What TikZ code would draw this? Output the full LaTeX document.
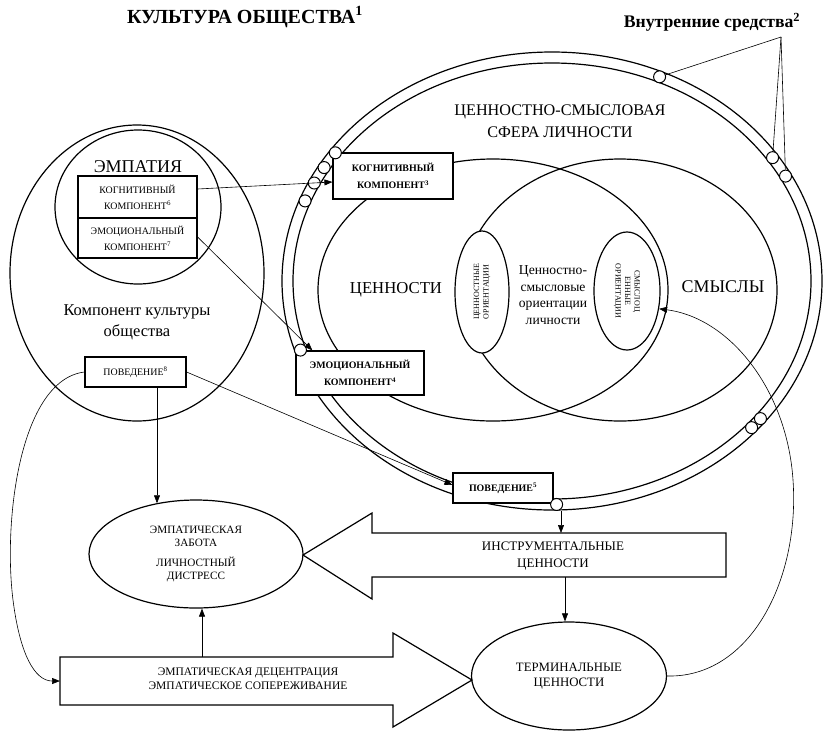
\documentclass[tikz,border=0pt]{standalone}
\usepackage{fontspec}
\setmainfont{Liberation Serif}
\usetikzlibrary{shapes.geometric,arrows.meta,calc}
\begin{document}
\begin{tikzpicture}[x=1pt,y=-1pt,
  outl/.style={line width=1.2pt},
  conn/.style={line width=0.6pt},
  arr/.style={conn,-{Triangle[length=8pt,width=6pt]}},
  ell/.style={ellipse,draw,outl,inner sep=0pt},
  box/.style={draw,outl,fill=white,inner sep=0pt,align=center},
  dot/.style={circle,draw,line width=1pt,fill=white,minimum size=12pt,inner sep=0pt},
  smalltxt/.style={font=\fontsize{9.9}{16}\selectfont},
  smallbold/.style={font=\fontsize{9.9}{17}\selectfont\bfseries},
]
\useasboundingbox (0,0) rectangle (837,732);

% titles
\node[font=\fontsize{20}{22}\selectfont\bfseries] (title) at (245,17) {КУЛЬТУРА ОБЩЕСТВА\textsuperscript{1}};
\node[font=\fontsize{17.7}{20}\selectfont\bfseries] (vnut) at (712,22) {Внутренние средства\textsuperscript{2}};

% big double ring
\node[ell, minimum width=540pt, minimum height=458pt] (ringO) at (552,281) {};
\node[ell, minimum width=518pt, minimum height=436pt] (ringI) at (552,281) {};
\node[font=\fontsize{16.2}{22}\selectfont, align=center] (sfera) at (560,121) {ЦЕННОСТНО-СМЫСЛОВАЯ\\СФЕРА ЛИЧНОСТИ};

% values / meanings ellipses
\node[ell, minimum width=350pt, minimum height=262pt] (cen) at (493,290) {};
\node[ell, minimum width=314pt, minimum height=262pt] (sm) at (620,290) {};
\node[font=\fontsize{16.7}{18}\selectfont] (cenlbl) at (396,290) {ЦЕННОСТИ};
\node[font=\fontsize{17.9}{19}\selectfont] (smlbl) at (723,287) {СМЫСЛЫ};

\node[ell, fill=white, minimum width=54pt, minimum height=122pt] (cor) at (482,292) {};
\node[font=\fontsize{8}{9.5}\selectfont, rotate=90, align=center] (corlbl) at (cor) {ЦЕННОСТНЫЕ\\ОРИЕНТАЦИИ};
\node[ell, fill=white, minimum width=66pt, minimum height=118pt] (sor) at (627,291) {};
\node[font=\fontsize{8}{9.5}\selectfont, rotate=-90, align=center] (sorlbl) at (sor) {СМЫСЛОЦ\\ЕННЫЕ\\ОРИЕНТАЦИИ};
\node[font=\fontsize{13.6}{16.7}\selectfont, align=center] (cso) at (553,295) {Ценностно-\\смысловые\\ориентации\\личности};

% left: culture component
\node[ell, minimum width=254pt, minimum height=296pt] (kko) at (137,273) {};
\node[ell, minimum width=166pt, minimum height=154pt] (emp) at (138,207) {};
\node[font=\fontsize{18}{20}\selectfont] (emplbl) at (138,167) {ЭМПАТИЯ};
\node[box, smalltxt, minimum width=119pt, minimum height=42pt] (kog6) at (137.5,197) {КОГНИТИВНЫЙ\\КОМПОНЕНТ\textsuperscript{6}};
\node[box, smalltxt, minimum width=119pt, minimum height=40pt] (emo7) at (137.5,238) {ЭМОЦИОНАЛЬНЫЙ\\КОМПОНЕНТ\textsuperscript{7}};
\node[font=\fontsize{16.5}{21}\selectfont, align=center] (kklbl) at (137,322) {Компонент культуры\\общества};
\node[box, smalltxt, minimum width=101pt, minimum height=30pt] (pov8) at (135.5,372) {ПОВЕДЕНИЕ\textsuperscript{8}};

% bottom ellipses
\node[ell, minimum width=214pt, minimum height=108pt, font=\fontsize{11.2}{13.5}\selectfont, align=center] (ezab) at (196,554) {ЭМПАТИЧЕСКАЯ\\ЗАБОТА\\[6pt]ЛИЧНОСТНЫЙ\\ДИСТРЕСС};
\node[ell, minimum width=195pt, minimum height=108pt, font=\fontsize{12.8}{15}\selectfont, align=center] (term) at (569,676) {ТЕРМИНАЛЬНЫЕ\\ЦЕННОСТИ};

% block arrows
\draw[outl, fill=white] (303,555) -- (372,513) -- (372,533) -- (726,533) -- (726,577) -- (372,577) -- (372,599) -- cycle;
\node[font=\fontsize{13}{17}\selectfont, align=center] (inst) at (553,556) {ИНСТРУМЕНТАЛЬНЫЕ\\ЦЕННОСТИ};
\coordinate (instTop) at (561,533);
\coordinate (instBot) at (565,577);

\draw[outl, fill=white] (60,657) -- (393,657) -- (393,633) -- (472,680) -- (393,727) -- (393,705) -- (60,705) -- cycle;
\node[font=\fontsize{11.5}{14}\selectfont, align=center] (edec) at (248,679) {ЭМПАТИЧЕСКАЯ ДЕЦЕНТРАЦИЯ\\ЭМПАТИЧЕСКОЕ СОПЕРЕЖИВАНИЕ};
\coordinate (edTop) at (202,657);
\coordinate (edL) at (60,681);

% right boxes
\node[box, smallbold, minimum width=120pt, minimum height=46pt] (kog3) at (393,176) {КОГНИТИВНЫЙ\\КОМПОНЕНТ\textsuperscript{3}};
\node[box, smallbold, minimum width=128pt, minimum height=44pt] (emo4) at (360,373) {ЭМОЦИОНАЛЬНЫЙ\\КОМПОНЕНТ\textsuperscript{4}};
\node[box, smallbold, minimum width=100pt, minimum height=30pt] (pov5) at (503,488) {ПОВЕДЕНИЕ\textsuperscript{5}};

% small circles on the ring
\foreach \n/\a in {c1/66, c2/33.5, c3/28, c4/145, c5/149.5, c6/154, c7/159, c8/198, c9/271, c10/319, c11/322}
  \node[dot] (\n) at ({552+264.5*cos(\a)},{281-223.5*sin(\a)}) {};

% connectors
\coordinate (vl) at (781,37);
\draw[conn] (vl) -- (c1);
\draw[conn] (vl) -- (c2);
\draw[conn] (vl) -- (c3);

\draw[arr] ($(kog6.east)+(0,-8)$) -- ($(kog3.west)+(0,6)$);
\draw[arr] ($(emo7.east)+(0,-1)$) -- ($(emo4.north west)+(17,0)$);
\draw[arr] (pov8.east) -- ($(pov5.west)+(0,-3)$);

\coordinate (p8a) at ($(pov8.south)+(21.5,0)$);
\draw[arr] (p8a) -- (p8a |- ezab.128);
\draw[arr] (edTop) -- (edTop |- ezab.south);
\draw[arr] (instTop |- c9.south) -- (instTop);
\draw[arr] (instBot) -- (instBot |- term.north);

\draw[arr] (pov8.west) .. controls (20,380) and (3,520) .. (13,600) .. controls (20,655) and (35,681) .. (edL);
\draw[arr] (term.east) .. controls (750,678) and (800,580) .. (793,480) .. controls (787,390) and (730,318) .. (sor.-29);
\end{tikzpicture}
\end{document}
